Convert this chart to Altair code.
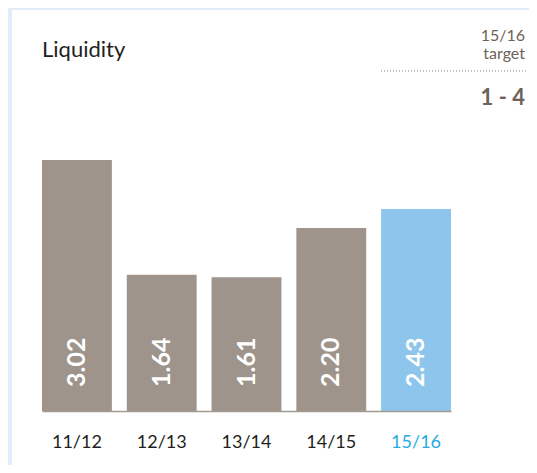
import altair as alt
import pandas as pd

# ---- data ----
years = ["11/12", "12/13", "13/14", "14/15", "15/16"]
values = [3.02, 1.64, 1.61, 2.20, 2.43]
highlight = [False, False, False, False, True]
title_text = ["Liquidity"]
target_lines = ["15/16", "target"]
target_value = ["1 - 4"]

GREY = "#9e948b"
BLUE = "#8ec5ec"
BLUE_TXT = "#29aae1"
DARK = "#231f20"
BROWN = "#6e6259"
FONT = "Lato"

df = pd.DataFrame({"year": years, "value": values, "hl": highlight})
df["label"] = [f"{v:.2f}" for v in values]

one = pd.DataFrame({"k": [0]})

panel = alt.Chart(one).mark_rect(color="white").encode(
    x=alt.value(-30), x2=alt.value(490), y=alt.value(-110), y2=alt.value(345)
)

xenc = alt.X(
    "year:N",
    sort=years,
    scale=alt.Scale(paddingInner=0.176, paddingOuter=0),
    axis=alt.Axis(
        title=None,
        labelAngle=0,
        ticks=False,
        domainColor="#a39a91",
        domainWidth=1.5,
        labelFont=FONT,
        labelFontSize=18,
        labelPadding=22,
        zindex=2,
        labelColor=alt.ExprRef("datum.value === '15/16' ? '" + BLUE_TXT + "' : '" + DARK + "'"),
    ),
)

bars = alt.Chart(df).mark_bar().encode(
    x=xenc,
    y=alt.Y("value:Q", scale=alt.Scale(domain=[0, 3.5]), axis=None),
    color=alt.Color("hl:N", scale=alt.Scale(domain=[False, True], range=[GREY, BLUE]), legend=None),
)

labels = alt.Chart(df).mark_text(
    angle=270, align="left", baseline="middle", dx=24,
    font=FONT, fontSize=25, fontWeight="bold", color="white"
).encode(
    x=alt.X("year:N", sort=years),
    y=alt.datum(0),
    text="label:N",
)

tdf = pd.DataFrame({"t": title_text})
title = alt.Chart(tdf).mark_text(
    align="left", baseline="alphabetic", font=FONT, fontSize=22, color=DARK
).encode(x=alt.value(0), y=alt.value(-63), text="t:N")

t1 = alt.Chart(pd.DataFrame({"t": [target_lines[0]]})).mark_text(
    align="right", baseline="alphabetic", font=FONT, fontSize=16, color=BROWN
).encode(x=alt.value(483), y=alt.value(-79), text="t:N")

t2 = alt.Chart(pd.DataFrame({"t": [target_lines[1]]})).mark_text(
    align="right", baseline="alphabetic", font=FONT, fontSize=16, color=BROWN
).encode(x=alt.value(483), y=alt.value(-61), text="t:N")

dots = alt.Chart(one).mark_rule(color="#8a8077", strokeDash=[1, 2], strokeWidth=1).encode(
    x=alt.value(339), x2=alt.value(485), y=alt.value(-49)
)

tv = alt.Chart(pd.DataFrame({"t": target_value})).mark_text(
    align="right", baseline="alphabetic", font=FONT, fontSize=22, fontWeight="bold", color=BROWN
).encode(x=alt.value(483), y=alt.value(-15), text="t:N")

chart = alt.layer(panel, bars, labels, title, t1, t2, dots, tv).properties(
    width=409,
    height=291,
    background="#e1eef9",
    padding={"left": 34, "top": 112, "right": 78, "bottom": 54},
    autosize="none",
).configure_view(stroke=None)

chart.save("out.html", embed_options={"renderer": "svg", "actions": False})
